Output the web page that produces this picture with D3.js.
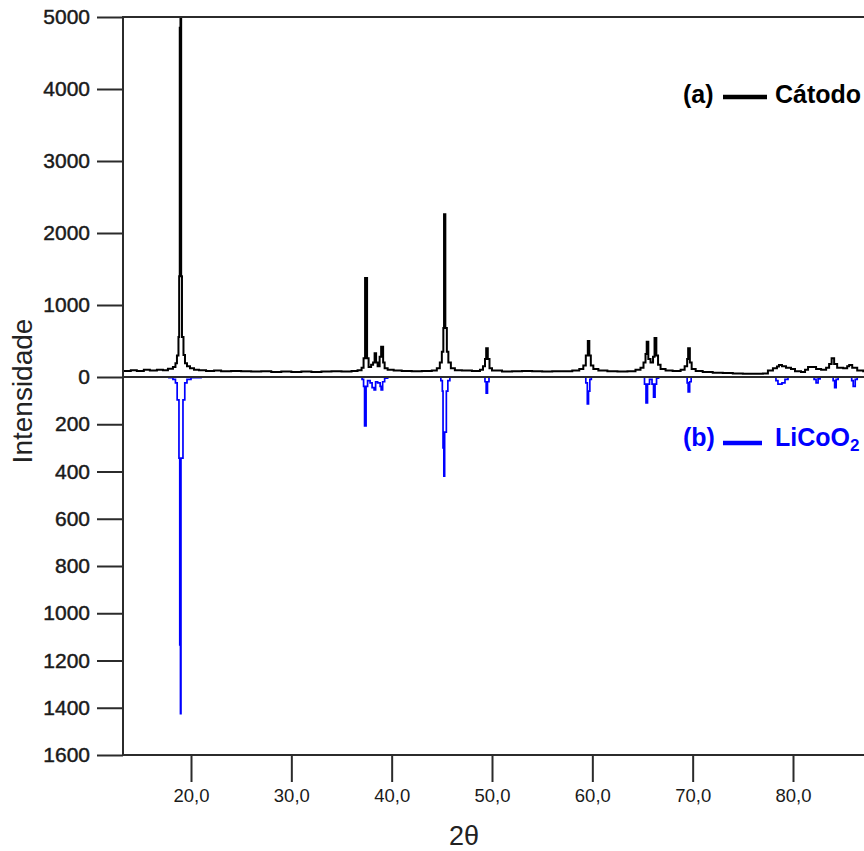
<!DOCTYPE html>
<html>
<head>
<meta charset="utf-8">
<script src="https://cdn.jsdelivr.net/npm/d3@7"></script>
<style>
  html, body { margin: 0; padding: 0; background: #fff; }
  svg { display: block; }
</style>
</head>
<body>
<svg id="chart" width="864" height="851"></svg>
<script>
// ---------------- data ----------------
const xTicks = [20, 30, 40, 50, 60, 70, 80];
const topTicks = [0, 1000, 2000, 3000, 4000, 5000];
const bottomTicks = [200, 400, 600, 800, 1000, 1200, 1400, 1600];

// (a) Cátodo : [2θ, intensity] (plotted upward)
const catodo = [
  [13.2,85],[14.0,95],[14.6,85],[15.3,100],[15.9,90],[16.6,100],[17.2,95],[17.7,115],
  [18.2,140],[18.45,190],[18.6,300],[18.75,555],[18.82,1400],[18.88,4850],[18.95,5000],
  [19.02,1400],[19.1,555],[19.25,305],[19.4,190],[19.6,150],[19.9,120],[20.3,100],
  [20.8,95],[21.5,85],[22.3,90],[23.0,80],[24.0,85],[25.0,80],[26.0,75],[27.0,80],
  [28.0,70],[29.0,75],[30.0,70],[31.0,75],[32.0,70],[33.0,75],[34.0,80],[35.0,75],
  [36.0,85],[36.6,95],[37.0,130],[37.2,260],[37.35,1375],[37.55,260],[37.7,140],
  [37.95,170],[38.15,200],[38.3,330],[38.45,200],[38.6,150],[38.8,280],[38.95,420],
  [39.15,200],[39.3,120],[39.6,100],[40.2,90],[41.0,85],[42.0,80],[43.0,85],[44.0,90],
  [44.5,120],[44.8,200],[45.0,350],[45.15,680],[45.22,2260],[45.35,680],[45.5,350],
  [45.65,200],[45.9,120],[46.3,95],[47.0,90],[48.0,85],[48.8,100],[49.1,150],[49.3,250],
  [49.42,400],[49.58,250],[49.75,120],[50.0,90],[51.0,75],[52.0,80],[53.0,85],[54.0,80],
  [55.0,75],[56.0,80],[57.0,80],[58.0,90],[58.7,110],[59.1,160],[59.35,300],[59.55,500],
  [59.7,300],[59.85,160],[60.1,110],[60.6,90],[61.5,80],[62.5,75],[63.5,80],[64.3,100],
  [64.8,130],[65.1,200],[65.3,320],[65.42,490],[65.58,250],[65.8,200],[66.05,280],
  [66.2,540],[66.38,300],[66.55,170],[66.8,110],[67.3,90],[68.0,85],[68.8,100],
  [69.2,150],[69.45,250],[69.55,400],[69.72,200],[69.9,110],[70.3,85],[71.0,70],
  [72.0,60],[73.0,55],[74.0,50],[75.0,45],[76.0,45],[77.0,50],[77.5,90],[78.0,120],
  [78.4,145],[78.6,165],[78.9,150],[79.3,130],[79.8,110],[80.2,80],[80.8,70],[81.2,100],
  [81.5,140],[82.3,110],[82.8,100],[83.3,130],[83.6,180],[83.85,260],[84.1,180],
  [84.4,130],[85.0,120],[85.4,150],[85.6,165],[85.9,130],[86.4,90],[87.0,80],[88.0,75],
  [89.0,80],[90.0,80]
];

// (b) LiCoO2 : [2θ, intensity] (plotted downward)
const licoo2 = [
  [13.2,0],[17.8,3],[18.2,10],[18.45,25],[18.62,97],[18.8,343],[18.88,1134],[18.95,1425],
  [19.0,343],[19.2,97],[19.38,25],[19.6,10],[20.0,3],[21.0,0],[36.9,0],[37.05,10],
  [37.2,40],[37.3,207],[37.45,40],[37.6,15],[37.85,25],[38.05,45],[38.25,55],[38.4,20],
  [38.6,25],[38.85,40],[38.95,55],[39.1,20],[39.3,5],[39.6,0],[44.7,0],[44.9,15],
  [45.05,60],[45.12,300],[45.2,420],[45.28,233],[45.45,60],[45.6,15],[45.8,0],[49.2,0],
  [49.3,20],[49.42,68],[49.55,20],[49.7,0],[59.2,0],[59.35,25],[59.5,114],[59.62,60],
  [59.75,10],[59.9,0],[65.1,0],[65.2,30],[65.35,110],[65.5,30],[65.7,10],[65.95,30],
  [66.1,85],[66.25,30],[66.4,5],[66.6,0],[69.35,0],[69.45,25],[69.55,63],[69.7,20],
  [69.85,0],[78.1,0],[78.3,15],[78.5,30],[78.9,25],[79.2,10],[79.5,0],[81.9,0],
  [82.1,10],[82.3,25],[82.5,8],[82.7,0],[83.9,0],[84.0,15],[84.15,45],[84.3,10],
  [84.5,0],[85.7,0],[85.85,15],[86.0,40],[86.2,10],[86.4,0],[90.0,0]
];

const legendItems = [
  { tag: "(a)", name: "Cátodo", color: "#000000" },
  { tag: "(b)", name: "LiCoO", sub: "2", color: "#0000ff" }
];

// ---------------- layout ----------------
const W = 864, H = 851;
const mLeft = 123, mTop = 17, zeroY = 377, mBottom = 755;
const svg = d3.select("#chart");
const axisColor = "#2b2b2b";
const fontFam = "'Liberation Sans', Arial, sans-serif";

const x = d3.scaleLinear().domain([20, 80]).range([191, 793]);
const yTop = d3.scaleLinear().domain([0, 5000]).range([zeroY, mTop]);
const yBot = d3.scaleLinear().domain([0, 1600]).range([zeroY, mBottom]);

svg.append("defs").append("clipPath").attr("id", "plotclip")
  .append("rect").attr("x", mLeft).attr("y", mTop - 1).attr("width", W - mLeft).attr("height", mBottom - mTop + 2);

const plot = svg.append("g").attr("clip-path", "url(#plotclip)");

// traces
plot.append("path")
  .datum(licoo2)
  .attr("fill", "none").attr("stroke", "#0000ff").attr("stroke-width", 1.7)
  .attr("d", d3.line().x(d => x(d[0])).y(d => yBot(d[1])).curve(d3.curveStepAfter));

plot.append("path")
  .datum(catodo)
  .attr("fill", "none").attr("stroke", "#000").attr("stroke-width", 2)
  .attr("d", d3.line().x(d => x(d[0])).y(d => yTop(d[1])).curve(d3.curveStepAfter));

// frame lines
const frame = svg.append("g").attr("stroke", axisColor).attr("stroke-width", 2);
frame.append("line").attr("x1", mLeft).attr("x2", W).attr("y1", mTop).attr("y2", mTop);
frame.append("line").attr("x1", mLeft).attr("x2", W).attr("y1", zeroY).attr("y2", zeroY);
frame.append("line").attr("x1", mLeft).attr("x2", W).attr("y1", mBottom).attr("y2", mBottom);
frame.append("line").attr("x1", mLeft).attr("x2", mLeft).attr("y1", mTop - 1).attr("y2", mBottom + 1);

function styleAxis(g, size, bold) {
  g.select(".domain").remove();
  g.selectAll(".tick line").attr("stroke", axisColor).attr("stroke-width", 2);
  g.selectAll(".tick text")
    .attr("fill", "#1a1a1a")
    .style("font-family", fontFam)
    .style("font-size", size + "px")
    .attr("stroke", bold ? "#1a1a1a" : null)
    .attr("stroke-width", bold ? 0.45 : null);
}

svg.append("g").attr("transform", `translate(${mLeft},0)`)
  .call(d3.axisLeft(yTop).tickValues(topTicks).tickSize(26).tickPadding(7).tickFormat(d3.format("d")))
  .call(g => styleAxis(g, 21, true));

svg.append("g").attr("transform", `translate(${mLeft},0)`)
  .call(d3.axisLeft(yBot).tickValues(bottomTicks).tickSize(26).tickPadding(7).tickFormat(d3.format("d")))
  .call(g => styleAxis(g, 21, true));

svg.append("g").attr("transform", `translate(0,${mBottom})`)
  .call(d3.axisBottom(x).tickValues(xTicks).tickSize(27).tickPadding(7)
    .tickFormat(d => d.toFixed(1).replace(".", ",")))
  .call(g => styleAxis(g, 18.5, false));

// axis titles
svg.append("text")
  .attr("transform", "translate(32,391) rotate(-90)")
  .attr("text-anchor", "middle")
  .attr("fill", "#222")
  .style("font-family", fontFam).style("font-size", "28px")
  .text("Intensidade");

svg.append("text")
  .attr("x", 464).attr("y", 845)
  .attr("text-anchor", "middle")
  .attr("fill", "#222")
  .style("font-family", fontFam).style("font-size", "27px")
  .text("2θ");

// legend
const legY = [103, 446];
const lineY = [97, 443];
const lineX2 = [767, 762];
legendItems.forEach((it, i) => {
  const g = svg.append("g");
  g.append("text").attr("x", 683).attr("y", legY[i])
    .attr("fill", it.color)
    .style("font-family", fontFam).style("font-size", "25px").style("font-weight", "bold")
    .text(it.tag);
  g.append("line").attr("x1", 723).attr("x2", lineX2[i]).attr("y1", lineY[i]).attr("y2", lineY[i])
    .attr("stroke", it.color).attr("stroke-width", 4.5);
  const t = g.append("text").attr("x", 775).attr("y", legY[i])
    .attr("fill", it.color)
    .style("font-family", fontFam).style("font-size", "25px").style("font-weight", "bold")
    .text(it.name);
  if (it.sub) {
    t.append("tspan").attr("dy", 5).style("font-size", "17px").text(it.sub);
  }
});
</script>
</body>
</html>
